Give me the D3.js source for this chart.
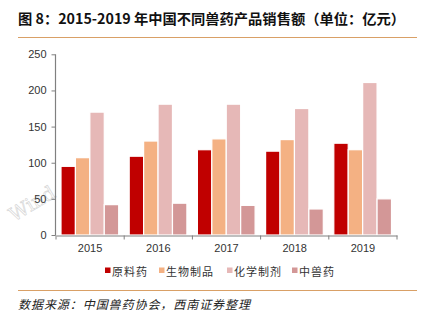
<!DOCTYPE html>
<html><head><meta charset="utf-8">
<script src="https://cdn.jsdelivr.net/npm/d3@7"></script>
<style>html,body{margin:0;padding:0;background:#fff;}svg{display:block;}</style>
</head><body>
<script>
const years = ["2015","2016","2017","2018","2019"];
const seriesNames = ["原料药","生物制品","化学制剂","中兽药"];
const rawMaterial = [95, 109, 118, 116, 127];
const biologics = [107, 130, 133, 132, 118];
const chemical = [170, 181, 181, 175, 211];
const tcm = [42, 44, 41, 36, 50];
const yTicks = [0, 50, 100, 150, 200, 250];
const colors = ["#C00000", "#F4B183", "#E6B8B7", "#D39797"];
const seriesValues = [rawMaterial, biologics, chemical, tcm];

const W = 424, H = 326;
const svg = d3.select("body").append("svg").attr("width", W).attr("height", H);

// title
svg.append("text").attr("x", 18).attr("y", 24)
  .attr("font-family", "'Noto Sans CJK SC', sans-serif").attr("font-weight", "bold")
  .attr("font-size", 14).attr("fill", "#111")
  .attr("textLength", 387).attr("lengthAdjust", "spacingAndGlyphs")
  .text("图 8：2015-2019 年中国不同兽药产品销售额（单位：亿元）");
svg.append("line").attr("x1", 18).attr("x2", 417).attr("y1", 37.5).attr("y2", 37.5)
  .attr("stroke", "#D9A066").attr("stroke-width", 1.2);

// watermark
svg.append("text").attr("transform", "translate(14,222) rotate(-31)")
  .attr("font-family", "'DejaVu Serif', serif").attr("font-size", 19)
  .attr("fill", "#fff").attr("stroke", "#d4d4d4").attr("stroke-width", 0.6)
  .text("Wind");

const x0 = d3.scaleBand().domain(years).range([56, 397]).paddingInner(0).paddingOuter(0);
const x1 = d3.scaleBand().domain(seriesNames).range([5, x0.bandwidth() - 5.5]).padding(0);
const y = d3.scaleLinear().domain([0, 250]).range([235, 54.3]);

const groups = svg.append("g").selectAll("g").data(years).join("g")
  .attr("transform", d => `translate(${x0(d)},0)`);
groups.selectAll("rect").data((d, i) => seriesNames.map((s, j) => ({ s, v: seriesValues[j][i], j })))
  .join("rect")
  .attr("x", d => x1(d.s))
  .attr("width", x1.bandwidth())
  .attr("y", d => y(d.v))
  .attr("height", d => y(0) - y(d.v))
  .attr("fill", d => colors[d.j])
  .attr("stroke", "#fff").attr("stroke-width", 1.2);

// axes
const yAxis = d3.axisLeft(y).tickValues(yTicks).tickSize(4).tickPadding(5);
const gy = svg.append("g").attr("transform", "translate(55.5,0)").call(yAxis);
const xAxis = d3.axisBottom(x0).tickSize(0).tickPadding(9);
const gx = svg.append("g").attr("transform", "translate(0,235.5)").call(xAxis);
// x ticks at band boundaries
const bounds = years.map(d => x0(d)).concat([x0.range()[1]]);
svg.append("g").selectAll("line").data(bounds).join("line")
  .attr("x1", d => d).attr("x2", d => d).attr("y1", 235.5).attr("y2", 239.5)
  .attr("stroke", "#808080");
[gy, gx].forEach(g => {
  g.select(".domain").attr("stroke", "#808080").attr("stroke-width", 1.2);
  g.selectAll(".tick line").attr("stroke", "#808080");
  g.selectAll("text").attr("font-family", "'Liberation Sans', Arial, sans-serif")
    .attr("font-size", 11).attr("fill", "#333");
});
gy.select(".domain").attr("d", "M0,54.3V235.5");

// legend
const legendX = [105, 159, 227, 292];
const lg = svg.append("g").selectAll("g").data(seriesNames).join("g")
  .attr("transform", (d, i) => `translate(${legendX[i]},271)`);
lg.append("rect").attr("x", 0).attr("y", -3.5).attr("width", 5.5).attr("height", 5.5)
  .attr("fill", (d, i) => colors[i]);
lg.append("text").attr("x", 7).attr("y", 4.5)
  .attr("font-family", "'Noto Sans CJK SC', sans-serif").attr("font-size", 11)
  .attr("fill", "#333").attr("letter-spacing", 1).text(d => d);

svg.append("line").attr("x1", 18).attr("x2", 417).attr("y1", 290.5).attr("y2", 290.5)
  .attr("stroke", "#D9A066").attr("stroke-width", 1.2);
svg.append("text").attr("x", 18).attr("y", 309)
  .attr("font-family", "'Noto Sans CJK SC', sans-serif").attr("font-size", 12)
  .attr("font-style", "italic").attr("fill", "#222")
  .attr("textLength", 232).attr("lengthAdjust", "spacing")
  .text("数据来源：中国兽药协会，西南证券整理");
</script>
</body></html>
